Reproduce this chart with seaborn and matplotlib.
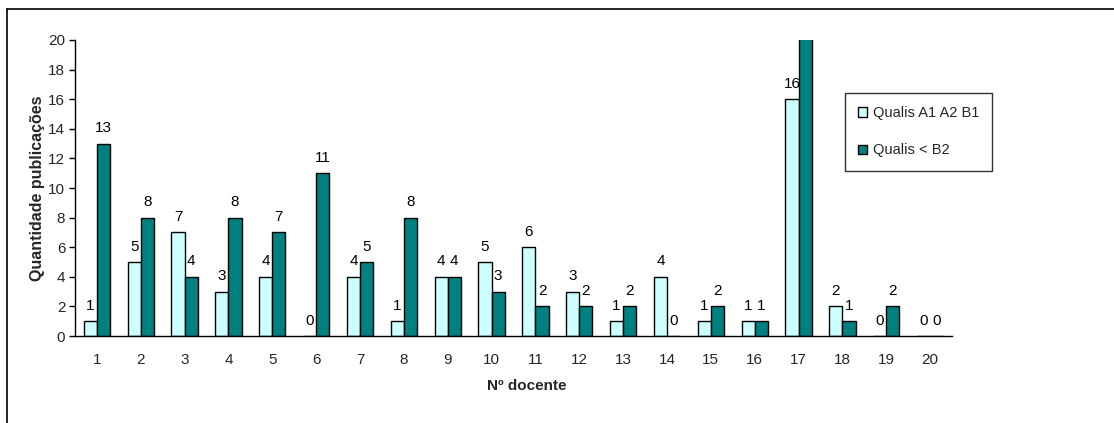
import matplotlib
matplotlib.use("Agg")
import matplotlib.pyplot as plt
from matplotlib.lines import Line2D
from matplotlib.patches import Patch
import seaborn as sns
import pandas as pd
import numpy as np

# Publication counts per faculty member
docentes = [str(i) for i in range(1, 21)]
qualis_alto = [1, 5, 7, 3, 4, 0, 4, 1, 4, 5, 6, 3, 1, 4, 1, 1, 16, 2, 0, 0]
qualis_baixo = [13, 8, 4, 8, 7, 11, 5, 8, 4, 3, 2, 2, 2, 0, 2, 1, 23, 1, 2, 0]
series_names = ["Qualis A1 A2 B1", "Qualis < B2"]
series_colors = ["#CCFFFF", "#008080"]
y_max = 20

df = pd.DataFrame({
    "docente": docentes * 2,
    "valor": qualis_alto + qualis_baixo,
    "serie": [series_names[0]] * len(docentes) + [series_names[1]] * len(docentes),
})

sns.set_style("white")
plt.rcParams["font.family"] = ["Liberation Sans", "DejaVu Sans"]

W, H = 1114, 423
fig = plt.figure(figsize=(W / 100, H / 100), dpi=100)
ax = fig.add_axes([75 / W, 1 - 336 / H, (952 - 75) / W, (336 - 40) / H])

sns.barplot(data=df, x="docente", y="valor", hue="serie", order=docentes,
            hue_order=series_names, palette=series_colors, width=0.6,
            edgecolor="black", linewidth=1.0, saturation=1, ax=ax, legend=False)

# Value labels above each bar (hidden when the bar runs past the axis)
for container in ax.containers:
    for rect in container:
        v = rect.get_height()
        if v > y_max:
            continue
        ax.annotate(f"{v:g}", (rect.get_x() + rect.get_width() / 2, v),
                    xytext=(0, 6), textcoords="offset points",
                    ha="center", va="bottom", fontsize=11, color="black")

ax.set_ylim(0, y_max)
ax.set_xlim(-0.5, len(docentes) - 0.5)
ax.set_yticks(np.arange(0, y_max + 1, 2))
ax.set_xticks(np.arange(len(docentes)))
ax.set_xticks(np.arange(-0.5, len(docentes)), minor=True)
ax.tick_params(axis="x", which="major", length=0, pad=12, labelsize=11)
ax.tick_params(axis="x", which="minor", length=5, width=1, direction="out", color="black")
ax.tick_params(axis="y", which="major", length=4, width=1, direction="out",
               color="black", labelsize=11, pad=3, left=True)
for side in ("top", "right"):
    ax.spines[side].set_visible(False)
for side in ("left", "bottom"):
    ax.spines[side].set_color("black")
    ax.spines[side].set_linewidth(1.0)
ax.set_xlabel("")
ax.set_ylabel("Quantidade publicações", fontsize=11.5, fontweight="bold", labelpad=2)

# Axis title for the category axis
fig.text(527 / W, 1 - 386 / H, "Nº docente", fontsize=11, fontweight="bold",
         ha="center", va="center")

handles = [Patch(facecolor=c, edgecolor="black", linewidth=1.0) for c in series_colors]
leg = fig.legend(handles, series_names, loc="upper left",
                 bbox_to_anchor=(845 / W, 1 - 93 / H), fontsize=10.5,
                 frameon=True, fancybox=False, handlelength=0.6, handleheight=0.6,
                 handletextpad=0.4, labelspacing=1.6, borderpad=0.9,
                 borderaxespad=0)
leg.get_frame().set_edgecolor("black")
leg.get_frame().set_linewidth(1.0)

# Outer chart frame (top and left edges)
fig.add_artist(Line2D([7 / W, 1], [1 - 9 / H, 1 - 9 / H], color="black", lw=1.2,
                      transform=fig.transFigure))
fig.add_artist(Line2D([7 / W, 7 / W], [0, 1 - 9 / H], color="black", lw=1.2,
                      transform=fig.transFigure))

fig.savefig("out.png", dpi=100, facecolor="white")
